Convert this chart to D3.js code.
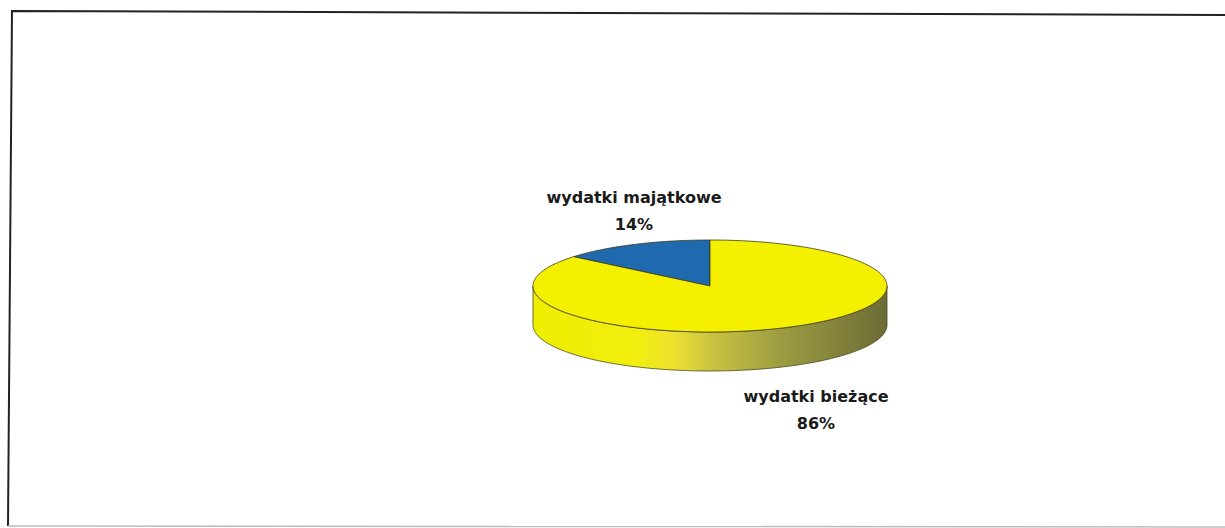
<!DOCTYPE html>
<html>
<head>
<meta charset="utf-8">
<script src="https://cdn.jsdelivr.net/npm/d3@7"></script>
<style>
  body { margin: 0; background: #fff; }
  svg { display: block; }
</style>
</head>
<body>
<svg id="chart" width="1225" height="528"></svg>
<script>
// chart data
const categories = ["wydatki majątkowe", "wydatki bieżące"];
const shares = [14, 86];
const colors = ["#1f6aae", "#f4f000"];

const svg = d3.select("#chart");

// frame (scanned page border, runs off to the right)
svg.append("path")
    .attr("d", "M1230,15 L12,11 L8,526")
    .attr("fill", "none")
    .attr("stroke", "#222")
    .attr("stroke-width", 2);
svg.append("path")
    .attr("d", "M8,526 L1230,527")
    .attr("fill", "none")
    .attr("stroke", "#bbb")
    .attr("stroke-width", 1.5);

const cx = 710, cy = 286, rx = 177, ry = 46, depth = 39;

const pie = d3.pie()
    .sort(null)
    .value((d) => d)
    .startAngle(-2 * Math.PI * shares[0] / 100)
    .endAngle(2 * Math.PI - 2 * Math.PI * shares[0] / 100);
const arcs = pie(shares);

// point on the top ellipse for a pie angle (0 = 12 o'clock, clockwise)
const pt = (a, dy = 0) => [cx + rx * Math.sin(a), cy - ry * Math.cos(a) + dy];

const arcPoints = (a0, a1, dy = 0) => {
    const n = Math.max(2, Math.ceil(Math.abs(a1 - a0) / 0.02));
    return d3.range(n + 1).map((i) => pt(a0 + (a1 - a0) * i / n, dy));
};

const defs = svg.append("defs");
const grad = defs.append("linearGradient")
    .attr("id", "side")
    .attr("gradientUnits", "userSpaceOnUse")
    .attr("x1", cx - rx).attr("x2", cx + rx)
    .attr("y1", 0).attr("y2", 0);
[
    [0, "#eeee00"],
    [0.3, "#f2ee10"],
    [0.4, "#ede030"],
    [0.5, "#cbc440"],
    [0.7, "#9c9c42"],
    [1, "#6c6c36"]
].forEach(([o, c]) => grad.append("stop").attr("offset", o).attr("stop-color", c));

const line = d3.line();

// side wall, only the front half (angles between 90° and 270°) is visible
arcs.forEach((d) => {
    const a0 = Math.max(d.startAngle, Math.PI / 2);
    const a1 = Math.min(d.endAngle, 3 * Math.PI / 2);
    if (a1 <= a0) return;
    const top = arcPoints(a0, a1);
    const bottom = arcPoints(a1, a0, depth);
    svg.append("path")
        .attr("d", line(top.concat(bottom)) + "Z")
        .attr("fill", d.index === 1 ? "url(#side)" : d3.color(colors[d.index]).darker(0.8))
        .attr("stroke", "#4a4a20")
        .attr("stroke-width", 0.8);
});

// top faces
arcs.forEach((d) => {
    const pts = [[cx, cy]].concat(arcPoints(d.startAngle, d.endAngle));
    svg.append("path")
        .attr("d", line(pts) + "Z")
        .attr("fill", colors[d.index])
        .attr("stroke", "#3a3a20")
        .attr("stroke-width", 0.8)
        .attr("stroke-linejoin", "round");
});

// labels
const labelPos = [[634, 203], [816, 402]];
arcs.forEach((d, i) => {
    const t = svg.append("text")
        .attr("x", labelPos[i][0])
        .attr("y", labelPos[i][1])
        .attr("text-anchor", "middle")
        .attr("font-family", "DejaVu Sans, Verdana, sans-serif")
        .attr("font-weight", "bold")
        .attr("font-size", 16)
        .attr("fill", "#1a1a1a");
    t.append("tspan").text(categories[i]);
    t.append("tspan")
        .attr("x", labelPos[i][0])
        .attr("dy", 27)
        .text(shares[i] + "%");
});
</script>
</body>
</html>
